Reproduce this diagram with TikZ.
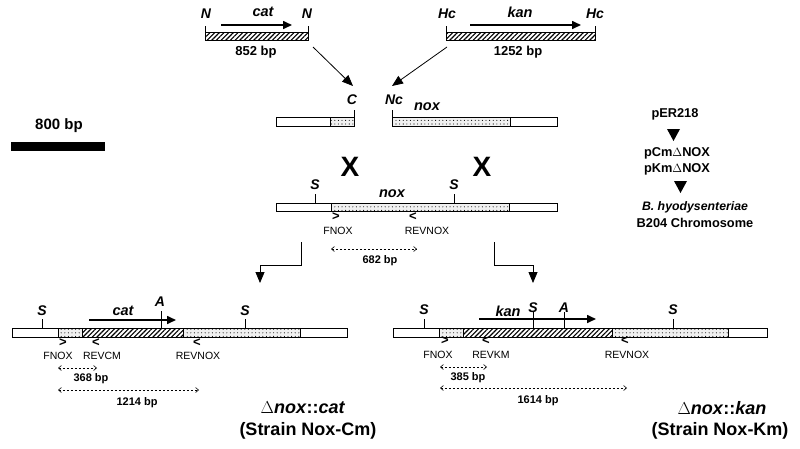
\documentclass[tikz,border=0pt]{standalone}
\usepackage{fontspec}
\setmainfont{Liberation Sans}
\usetikzlibrary{patterns.meta,arrows.meta}
\newcommand{\fsz}[1]{\fontsize{#1}{#1}\selectfont}
\tikzset{
  x=1pt, y=-1pt,
  seg/.style={draw, line width=0.7pt, inner sep=0pt, outer sep=0pt, anchor=north west},
  whiteseg/.style={seg, fill=white},
  hatchseg/.style={seg, pattern={Lines[angle=45,distance=3.3pt,line width=1.1pt]}},
  dotseg/.style={seg, fill=gray!12, postaction={pattern={Dots[distance=3.6pt,radius=0.55pt]}}},
  site/.style={font=\bfseries\itshape\fsz{14}, inner sep=0pt},
  gene/.style={font=\bfseries\itshape\fsz{14.5}, inner sep=0pt},
  bp/.style={font=\bfseries\fsz{13}, inner sep=0pt},
  smallbp/.style={font=\bfseries\fsz{11}, inner sep=0pt},
  primer/.style={font=\fsz{10.5}, inner sep=0pt},
  pmark/.style={font=\bfseries\fsz{13}, inner sep=0pt},
  tick/.style={line width=0.7pt},
  genearrow/.style={line width=1.6pt, -{Triangle[length=9pt,width=8pt]}},
  flow/.style={line width=0.8pt, -{Triangle[length=11pt,width=9pt]}},
  dim/.style={line width=0.6pt, dash pattern=on 2.5pt off 1.5pt, {Straight Barb[length=3pt,width=5pt]}-{Straight Barb[length=3pt,width=5pt]}},
  strain/.style={font=\bfseries\fsz{18}, inner sep=0pt},
  side/.style={font=\bfseries\fsz{12.8}, inner sep=0pt},
  tri/.style={fill=black},
}
\begin{document}
\begin{tikzpicture}
\useasboundingbox (0,0) rectangle (800,448);
\fill[white] (0,0) rectangle (800,448);

% ---------- top cassettes ----------
\node[hatchseg, minimum width=103pt, minimum height=8pt] (catbar) at (205,32) {};
\draw[tick] (catbar.north west) -- ++(0,-6);
\draw[tick] (catbar.north east) -- ++(0,-6);
\node[site] (n1) at (206,14) {N};
\node[site] (n2) at (307,14) {N};
\node[gene] (catlab) at (263,12) {cat};
\coordinate (cats) at (221,25); \coordinate (cate) at (292,25);
\draw[genearrow] (cats) -- (cate);
\node[bp] (bp852) at (256,52) {852 bp};

\node[hatchseg, minimum width=149pt, minimum height=8pt] (kanbar) at (446,32) {};
\draw[tick] (kanbar.north west) -- ++(0,-6);
\draw[tick] (kanbar.north east) -- ++(0,-6);
\node[site] (hc1) at (447,14) {Hc};
\node[site] (hc2) at (595,14) {Hc};
\node[gene] (kanlab) at (520,12) {kan};
\coordinate (kans) at (470,25); \coordinate (kane) at (581,25);
\draw[genearrow] (kans) -- (kane);
\node[bp] (bp1252) at (518,52) {1252 bp};

% ---------- middle top pieces ----------
\node[whiteseg, minimum width=54pt, minimum height=9pt] (lw) at (276,117) {};
\node[dotseg, minimum width=24pt, minimum height=9pt] (ld) at (330,117) {};
\draw[tick] (ld.north east) -- ++(0,-7);
\node[site] (clab) at (352,100) {C};
\node[dotseg, minimum width=118pt, minimum height=9pt] (rd) at (392,117) {};
\node[whiteseg, minimum width=47pt, minimum height=9pt] (rw) at (510,117) {};
\draw[tick] (rd.north west) -- ++(0,-7);
\node[site] (nclab) at (394,100) {Nc};
\node[gene] (nox1) at (427,107) {nox};

\coordinate (a1s) at (313,47); \coordinate (a1e) at (353,86);
\coordinate (a2s) at (447,47); \coordinate (a2e) at (392,86);
\draw[flow] (a1s) -- (a1e);
\draw[flow] (a2s) -- (a2e);

% ---------- scale bar ----------
\node[font=\bfseries\fsz{15}, inner sep=0pt] (sclab) at (59,126) {800 bp};
\fill (11,142) rectangle (105,151);

% ---------- crossover ----------
\node[font=\bfseries\fsz{28}, inner sep=0pt] (x1) at (350,167) {X};
\node[font=\bfseries\fsz{28}, inner sep=0pt] (x2) at (482,167) {X};

% ---------- chromosome nox ----------
\node[whiteseg, minimum width=55pt, minimum height=8pt] (mw1) at (276,203) {};
\node[dotseg, minimum width=178pt, minimum height=8pt] (md) at (331,203) {};
\node[whiteseg, minimum width=48pt, minimum height=8pt] (mw2) at (509,203) {};
\draw[tick] (315,203) -- (315,194);
\draw[tick] (454,203) -- (454,194);
\node[site] (ms1) at (315,185) {S};
\node[site] (ms2) at (454,185) {S};
\node[gene] (nox2) at (392,194) {nox};
\node[pmark] at (336,217) {>};
\node[pmark] at (413,217) {<};
\node[primer] (fnox0) at (338,231) {FNOX};
\node[primer] (revnox0) at (427,231) {REVNOX};
\coordinate (d0a) at (331,249); \coordinate (d0b) at (417,249);
\draw[dim] (d0a) -- (d0b);
\node[smallbp] at (380,261) {682 bp};

\coordinate (bl1) at (301,242); \coordinate (bl2) at (260,283);
\draw[flow] (bl1) -- (301,265) -- (260,265) -- (bl2);
\coordinate (br1) at (494,242); \coordinate (br2) at (533,283);
\draw[flow] (br1) -- (494,265) -- (533,265) -- (br2);

% ---------- right column ----------
\node[side] (per) at (675,114) {pER218};
\fill[tri] (667,129) -- (680,129) -- (673.5,141) -- cycle;
\node[side] (pcm) at (677,153) {pCm$\Delta$NOX};
\node[side] (pkm) at (677,169) {pKm$\Delta$NOX};
\fill[tri] (674,181) -- (687,181) -- (680.5,193) -- cycle;
\node[side, font=\bfseries\itshape\fsz{12.3}] (bhyo) at (695,207) {B. hyodysenteriae};
\node[side] (b204) at (695,223) {B204 Chromosome};

% ---------- bottom left: nox::cat ----------
\node[whiteseg, minimum width=46pt, minimum height=9pt] (c1) at (12,328) {};
\node[dotseg, minimum width=24pt, minimum height=9pt] (c2) at (58,328) {};
\node[hatchseg, minimum width=101pt, minimum height=9pt] (c3) at (82,328) {};
\node[dotseg, minimum width=117pt, minimum height=9pt] (c4) at (183,328) {};
\node[whiteseg, minimum width=47pt, minimum height=9pt] (c5) at (300,328) {};
\draw[tick] (42,328) -- (42,319);
\draw[tick] (161,328) -- (161,311);
\draw[tick] (245,328) -- (245,319);
\node[site] at (42,311) {S};
\node[site] at (160,302) {A};
\node[site] at (245,311) {S};
\node[gene] at (123,311) {cat};
\coordinate (ccs) at (89,320); \coordinate (cce) at (176,320);
\draw[genearrow] (ccs) -- (cce);
\node[pmark] at (63,343) {>};
\node[pmark] at (96,343) {<};
\node[pmark] at (197,343) {<};
\node[primer] at (58,356) {FNOX};
\node[primer] at (102,356) {REVCM};
\node[primer] at (198,356) {REVNOX};
\coordinate (d1a) at (58,368); \coordinate (d1b) at (97,368);
\draw[dim] (d1a) -- (d1b);
\node[smallbp] at (91,379) {368 bp};
\coordinate (d2a) at (58,390); \coordinate (d2b) at (199,390);
\draw[dim] (d2a) -- (d2b);
\node[smallbp] at (137,403) {1214 bp};
\node[strain] (st1a) at (303,408) {$\Delta$\textit{nox}::\textit{cat}};
\node[strain] (st1b) at (308,431) {(Strain Nox-Cm)};

% ---------- bottom right: nox::kan ----------
\node[whiteseg, minimum width=46pt, minimum height=9pt] (k1) at (393,328) {};
\node[dotseg, minimum width=24pt, minimum height=9pt] (k2) at (439,328) {};
\node[hatchseg, minimum width=149pt, minimum height=9pt] (k3) at (463,328) {};
\node[dotseg, minimum width=116pt, minimum height=9pt] (k4) at (612,328) {};
\node[whiteseg, minimum width=39pt, minimum height=9pt] (k5) at (728,328) {};
\draw[tick] (424,328) -- (424,319);
\draw[tick] (533,328) -- (533,312);
\draw[tick] (564,328) -- (564,312);
\draw[tick] (673,328) -- (673,319);
\node[site] at (424,310) {S};
\node[site] at (533,308) {S};
\node[site] at (564,308) {A};
\node[site] at (673,310) {S};
\node[gene] at (508,311) {kan};
\coordinate (kks) at (479,319); \coordinate (kke) at (596,319);
\draw[genearrow] (kks) -- (kke);
\node[pmark] at (445,341) {>};
\node[pmark] at (486,341) {<};
\node[pmark] at (625,341) {<};
\node[primer] at (438,355) {FNOX};
\node[primer] at (491,355) {REVKM};
\node[primer] at (627,355) {REVNOX};
\coordinate (d3a) at (440,367); \coordinate (d3b) at (487,367);
\draw[dim] (d3a) -- (d3b);
\node[smallbp] at (468,378) {385 bp};
\coordinate (d4a) at (440,388); \coordinate (d4b) at (627,388);
\draw[dim] (d4a) -- (d4b);
\node[smallbp] at (538,401) {1614 bp};
\node[strain] (st2a) at (722,408) {$\Delta$\textit{nox}::\textit{kan}};
\node[strain] (st2b) at (720,431) {(Strain Nox-Km)};
\end{tikzpicture}
\end{document}
